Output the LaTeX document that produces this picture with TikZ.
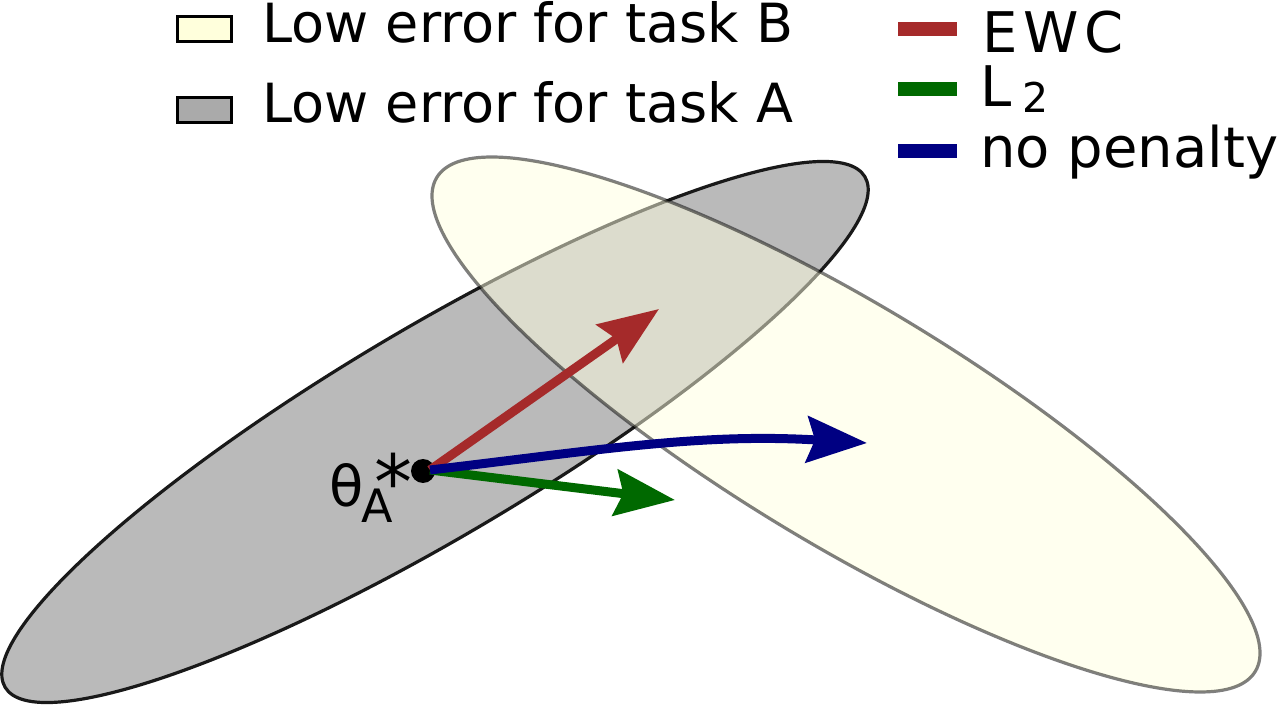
\documentclass[tikz,border=0pt]{standalone}
\usepackage{fontspec}
\setmainfont{DejaVu Sans}
\usetikzlibrary{arrows.meta}
\definecolor{ewcred}{RGB}{165,42,42}
\definecolor{ltwogreen}{RGB}{0,105,0}
\definecolor{nopenblue}{RGB}{0,0,130}
\definecolor{taskagray}{RGB}{186,186,186}
\definecolor{legendgray}{RGB}{170,170,170}
\definecolor{taskbyellow}{RGB}{255,255,225}
\definecolor{legendyellow}{RGB}{255,255,220}
\begin{document}
\begin{tikzpicture}[x=0.5pt,y=-0.5pt,
  legtext/.style={anchor=base west, inner sep=0pt, font=\fontsize{27pt}{30pt}\selectfont},
  legtextr/.style={anchor=base west, inner sep=0pt, font=\fontsize{28pt}{30pt}\selectfont},
  legbox/.style={draw=black, line width=1.5pt, minimum width=27pt, minimum height=12.5pt, inner sep=0pt},
  legline/.style={line width=7pt},
  upd/.style={line width=4.5pt, -{Stealth[length=30pt,width=23pt,inset=4pt]}},
  lbl/.style={anchor=base west, inner sep=0pt},
]
\useasboundingbox (0,0) rectangle (1280,705);
\fill[white] (0,0) rectangle (1280,705);
% regions of low error
\draw[fill=taskagray, draw=black!90, line width=1.6pt, rotate around={30.7:(435,432)}] (435,432) ellipse [x radius=500, y radius=104];
\draw[fill=taskbyellow, draw=black, line width=1.6pt, opacity=0.5, rotate around={-31.1:(846,424.5)}] (846,424.5) ellipse [x radius=478, y radius=120];
% theta_A^*
\node[circle, fill=black, minimum size=12pt, inner sep=0pt] (theta) at (423,471) {};
\coordinate (orig) at (430,470);
\coordinate (ewctip) at (659,309);
\coordinate (l2tip) at (675,500);
\coordinate (nptip) at (867,443);
\draw[upd, ewcred] (orig) -- (ewctip);
\draw[upd, ltwogreen] (orig) -- (l2tip);
\draw[upd, nopenblue] (orig) .. controls (600,450) and (700,433) .. (nptip);
\node[lbl] (thlbl) at (329,507) {\fontsize{28pt}{30pt}\selectfont θ\kern-0.85pt\rlap{\raisebox{-8pt}{\fontsize{23pt}{26pt}\selectfont A}}\kern6.5pt\raisebox{-1.5pt}{\fontsize{38pt}{40pt}\selectfont *}};
% legend, left
\node[legbox, fill=legendyellow] (boxB) at (204.5,29) {};
\node[legtext] (txtB) at (262,43) {Low error for task B};
\node[legbox, fill=legendgray] (boxA) at (204.5,110) {};
\node[legtext] (txtA) at (262,123) {Low error for task A};
% legend, right
\draw[legline, ewcred] (898,29) -- (957,29);
\node[legtextr] (txtEWC) at (982,53) {E\kern2.75pt W\kern2.75pt C};
\draw[legline, ltwogreen] (898,89) -- (957,89);
\node[legtextr] (txtL2) at (980,107) {L\hspace{5.5pt}\raisebox{-3pt}{\fontsize{20.5pt}{22pt}\selectfont 2}};
\draw[legline, nopenblue] (898,151) -- (957,151);
\node[legtextr] (txtNP) at (980,168) {no penalty};
\end{tikzpicture}
\end{document}
